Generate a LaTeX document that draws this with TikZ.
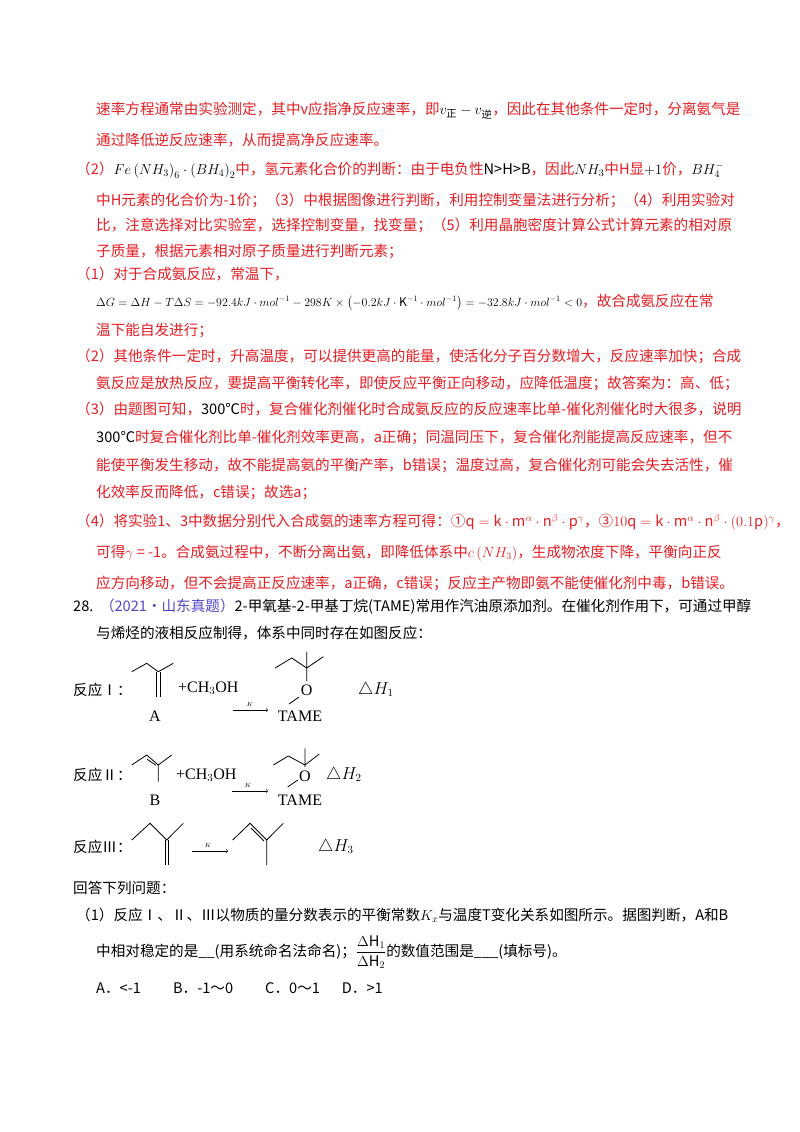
\documentclass[tikz,border=0pt]{standalone}
\usepackage{amsmath}
\usepackage{fontspec}
\setmainfont{Noto Sans CJK SC}
\newfontfamily\tms{Liberation Serif}
\definecolor{rd}{RGB}{228,30,36}
\definecolor{pu}{RGB}{80,70,200}
\begin{document}
\begin{tikzpicture}[x=1pt,y=-1pt,
  ln/.style={anchor=west,inner sep=0pt,font=\fontsize{14.6}{16}\selectfont},
  red/.style={ln,text=rd},
  blk/.style={ln,text=black},
  bond/.style={line width=0.8pt},
  lab/.style={inner sep=0pt,font=\tms\fontsize{16}{18}\selectfont}]
\useasboundingbox (0,0) rectangle (800,1132);
\fill[white] (0,0) rectangle (800,1132);
\node[red] (l1) at (96,111) {速率方程通常由实验测定，其中v应指净反应速率，即\textcolor{black}{$v_{\text{正}}-v_{\text{逆}}$}，因此在其他条件一定时，分离氨气是};
\node[red] (l2) at (96,140) {通过降低逆反应速率，从而提高净反应速率。};
\node[red] (l3) at (76,170) {（2）\textcolor{black}{$Fe\left(NH_3\right)_6\cdot\left(BH_4\right)_2$}中，氢元素化合价的判断：由于电负性\textcolor{black}{N>H>B}，因此\textcolor{black}{$NH_3$}中H显\textcolor{black}{$+1$}价，\textcolor{black}{$BH_4^-$}};
\node[red] (l4) at (96,200) {中H元素的化合价为-1价；（3）中根据图像进行判断，利用控制变量法进行分析；（4）利用实验对};
\node[red] (l5) at (96,225) {比，注意选择对比实验室，选择控制变量，找变量；（5）利用晶胞密度计算公式计算元素的相对原};
\node[red] (l6) at (96,252) {子质量，根据元素相对原子质量进行判断元素；};
\node[red] (l7) at (76,274) {（1）对于合成氨反应，常温下，};
\node[red] (l8) at (96,302) {\textcolor{black}{\resizebox{486pt}{!}{$\Delta G=\Delta H-T\Delta S=-92.4kJ\cdot mol^{-1}-298K\times\left(-0.2kJ\cdot \mathrm{K}^{-1}\cdot mol^{-1}\right)=-32.8kJ\cdot mol^{-1}<0$}}，故合成氨反应在常};
\node[red] (l9) at (96,331) {温下能自发进行；};
\node[red] (l10) at (76,356) {（2）其他条件一定时，升高温度，可以提供更高的能量，使活化分子百分数增大，反应速率加快；合成};
\node[red] (l11) at (96,383) {氨反应是放热反应，要提高平衡转化率，即使反应平衡正向移动，应降低温度；故答案为：高、低；};
\node[red] (l12) at (76,409) {（3）由题图可知，\textcolor{black}{300℃}时，复合催化剂催化时合成氨反应的反应速率比单-催化剂催化时大很多，说明};
\node[red] (l13) at (96,437) {\textcolor{black}{300℃}时复合催化剂比单-催化剂效率更高，a正确；同温同压下，复合催化剂能提高反应速率，但不};
\node[red] (l14) at (96,465) {能使平衡发生移动，故不能提高氨的平衡产率，b错误；温度过高，复合催化剂可能会失去活性，催};
\node[red] (l15) at (96,492) {化效率反而降低，c错误；故选a；};
\node[red] (l16) at (76,522) {（4）将实验1、3中数据分别代入合成氨的速率方程可得：①$\mathrm{q}=\mathrm{k}\cdot\mathrm{m}^\alpha\cdot\mathrm{n}^\beta\cdot\mathrm{p}^\gamma$，③$10\mathrm{q}=\mathrm{k}\cdot\mathrm{m}^\alpha\cdot\mathrm{n}^\beta\cdot(0.1\mathrm{p})^\gamma$，};
\node[red] (l17) at (96,553) {可得$\gamma$ = -1。合成氨过程中，不断分离出氨，即降低体系中$c\left(NH_3\right)$，生成物浓度下降，平衡向正反};
\node[red] (l18) at (96,583) {应方向移动，但不会提高正反应速率，a正确，c错误；反应主产物即氨不能使催化剂中毒，b错误。};
\node[blk] (l19) at (73,607) {28.\ \ \textcolor{pu}{（2021·山东真题）}2-甲氧基-2-甲基丁烷(TAME)常用作汽油原添加剂。在催化剂作用下，可通过甲醇};
\node[blk] (l20) at (96,633) {与烯烃的液相反应制得，体系中同时存在如图反应：};
% reaction I
\node[blk] (r1) at (73,690) {反应Ⅰ：};
\draw[bond] (131.7,671.7)--(146.7,663.3)--(158.3,671.7)--(173.3,663.3);
\draw[bond] (156.8,671.7)--(156.8,696.7) (160.3,671.7)--(160.3,696.7);
\node[lab] (a) at (155,716) {A};
\node[lab,anchor=west] (m1) at (178,688) {+CH$_3$OH};
\draw[bond] (275,668)--(291.7,658)--(306.7,668)--(323.3,656.7) (306.7,668)--(306.7,651.7) (306.7,668)--(306.7,681);
\node[lab] (o1) at (306.7,690) {O};
\draw[bond] (299,697)--(289,704);
\node[lab] (t1) at (300,716) {TAME};
\node[lab,anchor=west] (h1) at (358,690) {$\triangle H_1$};
\draw[->,line width=0.5pt] (233,710)--(268,710);
\node[font=\tms\fontsize{6}{6}\selectfont,inner sep=0pt] (k1) at (250,704) {$K$};
% reaction II
\node[blk] (r2) at (73,775) {反应Ⅱ：};
\draw[bond] (131.7,765)--(146.7,755)--(158.3,765)--(171.7,755) (158.3,765)--(158.3,781.7);
\draw[bond] (147.2,759.3)--(156,765.3);
\node[lab] (b) at (155,800) {B};
\node[lab,anchor=west] (m2) at (176,775) {+CH$_3$OH};
\draw[bond] (273.3,765)--(288.3,756)--(305,765)--(319.3,754) (305,765)--(305,748.3) (305,765)--(305,767);
\node[lab] (o2) at (305,776) {O};
\draw[bond] (297.7,780)--(287.7,787);
\node[lab] (t2) at (300,800) {TAME};
\node[lab,anchor=west] (h2) at (326,775) {$\triangle H_2$};
\draw[->,line width=0.5pt] (232,791)--(268,791);
\node[font=\tms\fontsize{6}{6}\selectfont,inner sep=0pt] (k2) at (248,785) {$K$};
% reaction III
\node[blk] (r3) at (73,847) {反应Ⅲ：};
\draw[bond] (131.7,840)--(150,823.3)--(166.7,840)--(183.3,823.3);
\draw[bond] (165,840)--(165,865) (168.5,840)--(168.5,865);
\draw[->,line width=0.5pt] (192,851)--(228,851);
\node[font=\tms\fontsize{6}{6}\selectfont,inner sep=0pt] (k3) at (208,845) {$K$};
\draw[bond] (232.7,840)--(250,823.3)--(266.7,840)--(283.3,823.3) (266.7,840)--(266.7,865);
\draw[bond] (251,828)--(264,841);
\node[lab,anchor=west] (h3) at (318,847) {$\triangle H_3$};
% questions
\node[blk] (q0) at (73,888) {回答下列问题：};
\node[blk] (q1) at (76,915) {（1）反应Ⅰ、Ⅱ、Ⅲ以物质的量分数表示的平衡常数$K_x$与温度T变化关系如图所示。据图判断，A和B};
\node[blk] (q2) at (96,952) {中相对稳定的是\_\_(用系统命名法命名)；$\dfrac{\Delta\mathrm{H}_1}{\Delta\mathrm{H}_2}$的数值范围是\_\_\_(填标号)。};
\node[blk] (q3) at (96,988) {A．<-1\hspace{2.2em}B．-1～0\hspace{2.2em}C．0～1\hspace{1.5em}D．>1};
\end{tikzpicture}
\end{document}
